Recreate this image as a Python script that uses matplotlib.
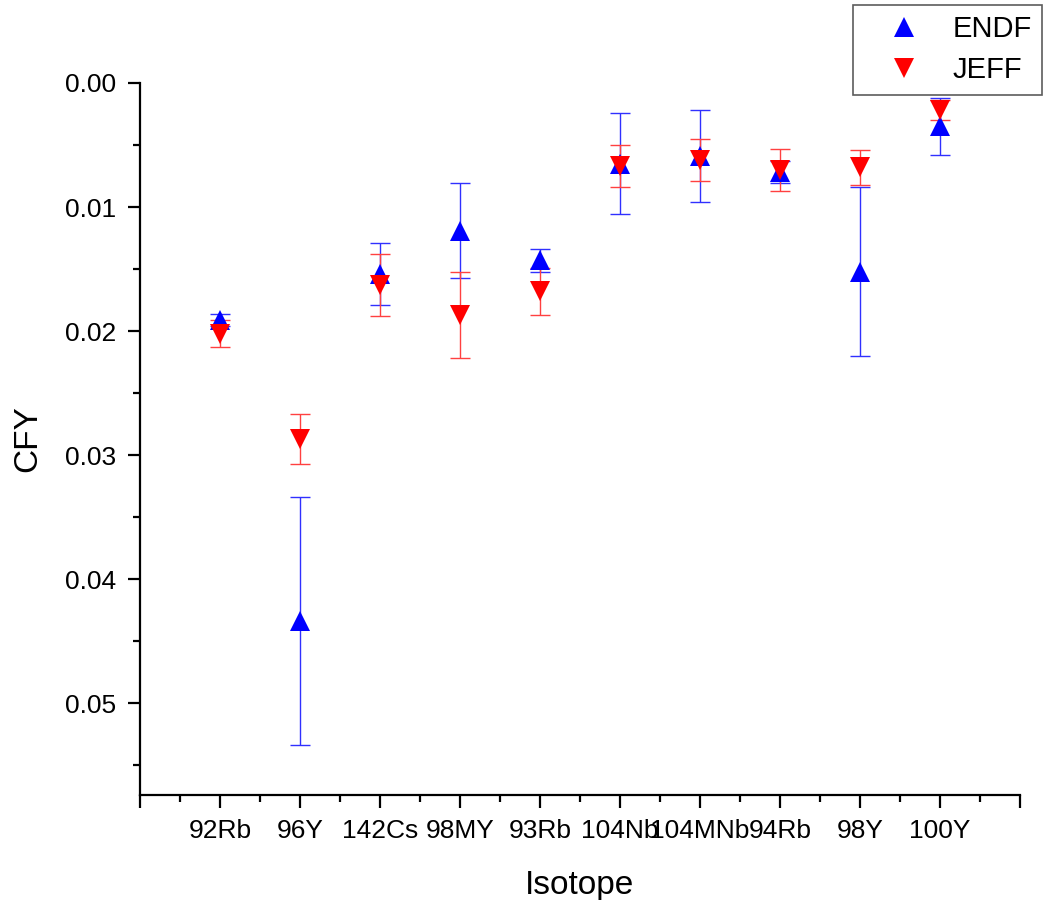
import matplotlib
matplotlib.use("Agg")
import matplotlib.pyplot as plt
from matplotlib.ticker import MultipleLocator, FormatStrFormatter
from matplotlib.lines import Line2D

plt.rcParams['font.family'] = ['Liberation Sans', 'DejaVu Sans']

isotopes = ["92Rb", "96Y", "142Cs", "98MY", "93Rb", "104Nb", "104MNb", "94Rb", "98Y", "100Y"]
endf_cfy = [0.0191, 0.0434, 0.0154, 0.0119, 0.0143, 0.0065, 0.0059, 0.0072, 0.0152, 0.0035]
endf_err = [0.0005, 0.0100, 0.0025, 0.0038, 0.0009, 0.0041, 0.0037, 0.0009, 0.0068, 0.0023]
jeff_cfy = [0.0202, 0.0287, 0.0163, 0.0187, 0.0168, 0.0067, 0.0062, 0.0070, 0.0068, 0.0022]
jeff_err = [0.0011, 0.0020, 0.0025, 0.0035, 0.0019, 0.0017, 0.0017, 0.0017, 0.0014, 0.0008]

fig = plt.figure(figsize=(10.43, 9.0), dpi=100)
ax = fig.add_axes([140/1043, 1-795/900, 880/1043, (795-83)/900])

x = list(range(1, len(isotopes) + 1))

ax.errorbar(x, endf_cfy, yerr=endf_err, fmt='none', ecolor='#3030ff', elinewidth=1.0,
            capsize=7, capthick=1.0, zorder=2)
ax.errorbar(x, jeff_cfy, yerr=jeff_err, fmt='none', ecolor='#ff4040', elinewidth=1.0,
            capsize=7, capthick=1.0, zorder=2)
ax.plot(x, endf_cfy, linestyle='none', marker='^', color='#0000ff', markersize=14,
        markeredgewidth=0, zorder=3)
ax.plot(x, jeff_cfy, linestyle='none', marker='v', color='#ff0000', markersize=14,
        markeredgewidth=0, zorder=4)

ax.set_xlim(0, 11)
ax.set_ylim(0.0574, 0.0)

ax.set_xticks(range(0, 12))
ax.set_xticklabels([""] + isotopes + [""])
ax.xaxis.set_minor_locator(MultipleLocator(0.5))
ax.yaxis.set_major_locator(MultipleLocator(0.01))
ax.yaxis.set_minor_locator(MultipleLocator(0.005))
ax.yaxis.set_major_formatter(FormatStrFormatter('%.2f'))

for s in ['top', 'right']:
    ax.spines[s].set_visible(False)
for s in ['left', 'bottom']:
    ax.spines[s].set_linewidth(1.6)
    ax.spines[s].set_color('black')

ax.tick_params(axis='both', which='major', direction='out', length=9, width=1.6,
               labelsize=19, colors='black', pad=8)
ax.tick_params(axis='both', which='minor', direction='out', length=5, width=1.6)

ax.set_xlabel("Isotope", fontsize=24, labelpad=20)
ax.set_ylabel("CFY", fontsize=24, labelpad=16)

handles = [
    Line2D([], [], linestyle='none', marker='^', color='#0000ff', markersize=14, markeredgewidth=0),
    Line2D([], [], linestyle='none', marker='v', color='#ff0000', markersize=14, markeredgewidth=0),
]
leg = fig.legend(handles, ["ENDF", "JEFF"], loc='upper left',
                 bbox_to_anchor=(853/1043, 1-5/900), fontsize=21, frameon=True,
                 fancybox=False, edgecolor='#333333', borderpad=0.35, handlelength=2.8,
                 handletextpad=0.25, labelspacing=0.45, borderaxespad=0)
leg.get_frame().set_linewidth(1.2)

fig.savefig("out.png", dpi=100)
